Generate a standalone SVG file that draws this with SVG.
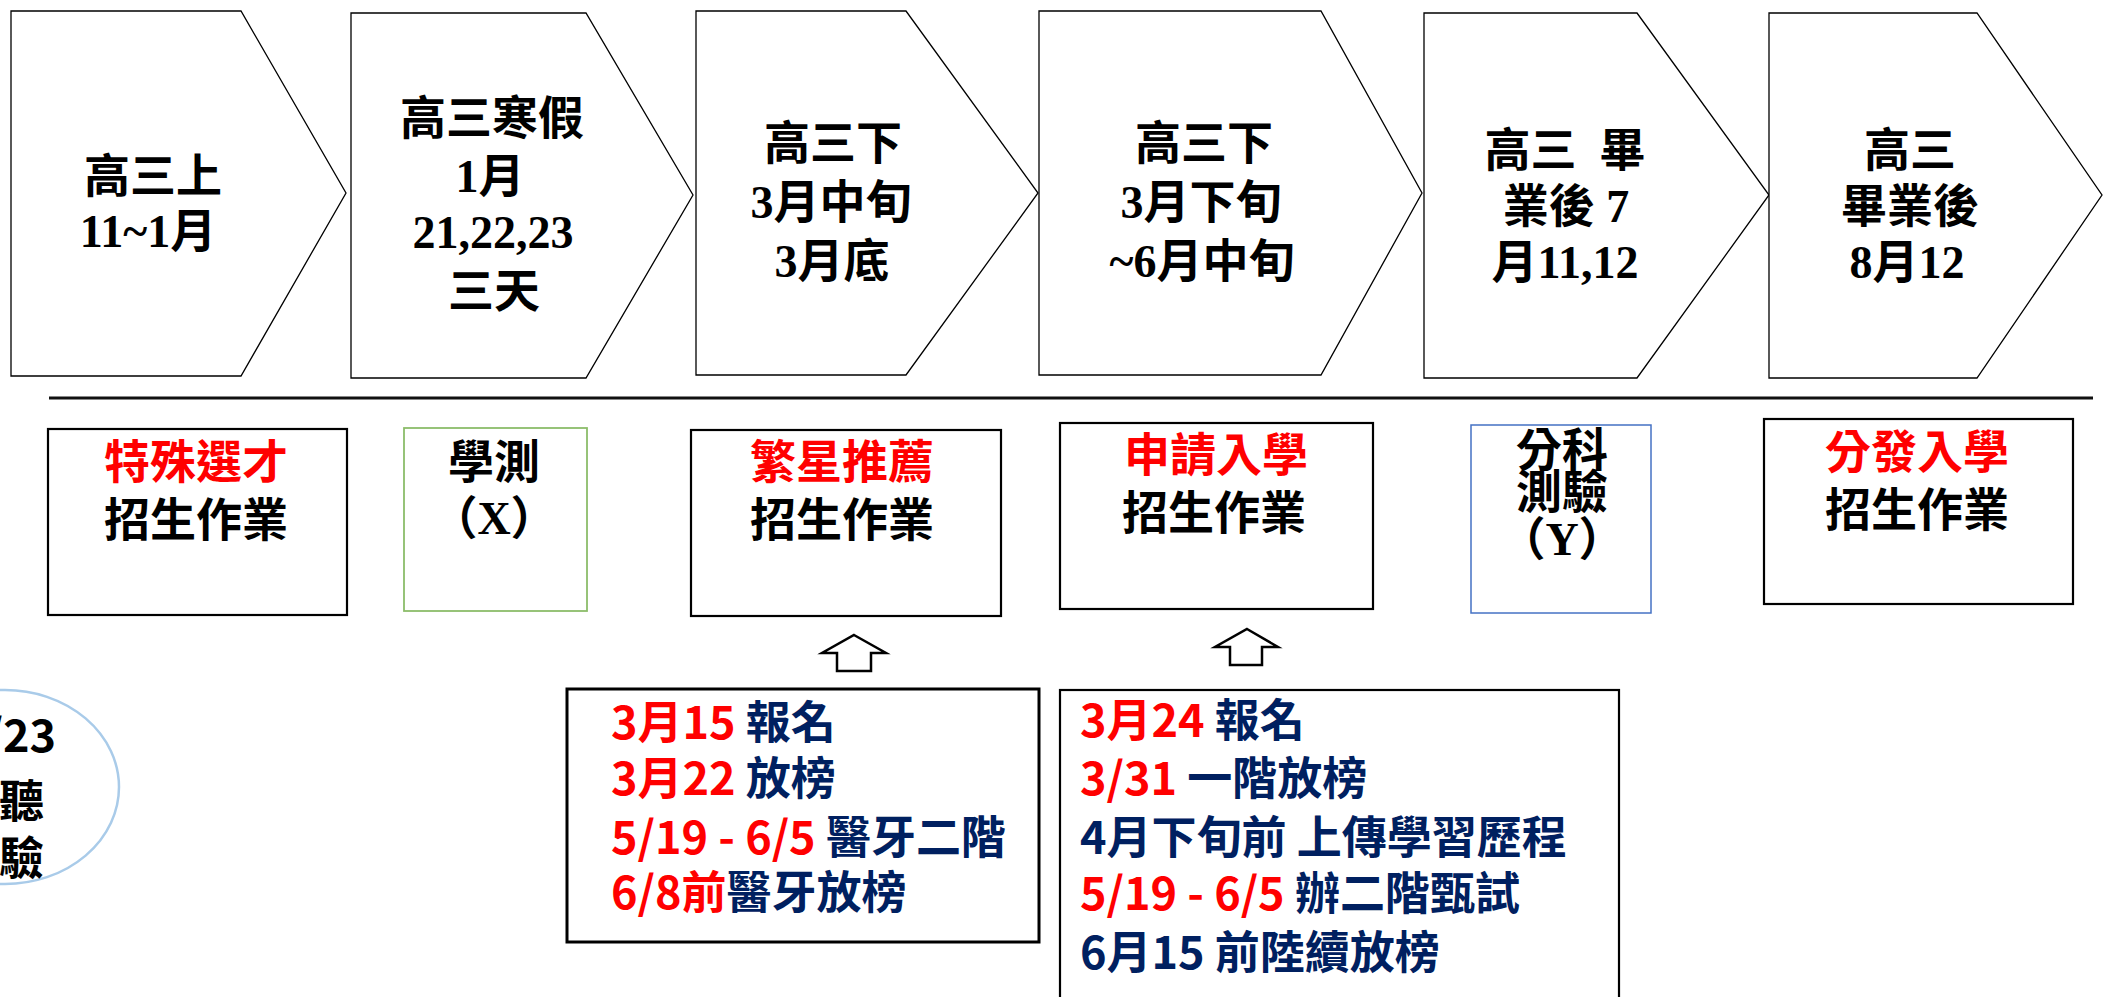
<svg xmlns="http://www.w3.org/2000/svg" width="2104" height="997" viewBox="0 0 2104 997">
<style>
.chev{fill:#fff;stroke:#000;stroke-width:1.3}
.ct{font-family:"Liberation Serif","Noto Sans CJK TC",serif;font-weight:bold;font-size:46px;fill:#000;text-anchor:middle}
.box{fill:#fff;stroke:#000;stroke-width:2.2}
.bt{font-family:"Liberation Serif","Noto Sans CJK TC",serif;font-weight:bold;font-size:46px;text-anchor:middle}
.red{fill:#ff0000}
.blk{fill:#000}
.nv{fill:#002060}
.lt{font-family:"Noto Sans CJK TC",sans-serif;font-weight:bold;font-size:45px}
.arr{fill:#fff;stroke:#000;stroke-width:2.5;stroke-linejoin:miter}
</style>
<rect width="2104" height="997" fill="#fff"/>
<g id="chevron1">
<polygon class="chev" points="11,11 241,11 346,193 241,376 11,376"/>
<text class="ct" x="153" y="192">高三上</text>
<text class="ct" x="148" y="247">11~1月</text>
</g>
<g id="chevron2">
<polygon class="chev" points="351,13 586,13 693,195 586,378 351,378"/>
<text class="ct" x="492" y="134">高三寒假</text>
<text class="ct" x="490" y="192">1月</text>
<text class="ct" x="493" y="248">21,22,23</text>
<text class="ct" x="494" y="307">三天</text>
</g>
<g id="chevron3">
<polygon class="chev" points="696,11 906,11 1038,193 906,375 696,375"/>
<text class="ct" x="833" y="159">高三下</text>
<text class="ct" x="831" y="218">3月中旬</text>
<text class="ct" x="832" y="277">3月底</text>
</g>
<g id="chevron4">
<polygon class="chev" points="1039,11 1321,11 1422,193 1321,375 1039,375"/>
<text class="ct" x="1204" y="159">高三下</text>
<text class="ct" x="1201" y="218">3月下旬</text>
<text class="ct" x="1202" y="277">~6月中旬</text>
</g>
<g id="chevron5">
<polygon class="chev" points="1424,13 1637,13 1769,195 1637,378 1424,378"/>
<text class="ct" x="1565" y="166" xml:space="preserve">高三  畢</text>
<text class="ct" x="1566" y="222" xml:space="preserve">業後 7</text>
<text class="ct" x="1565" y="278">月11,12</text>
</g>
<g id="chevron6">
<polygon class="chev" points="1769,13 1977,13 2102,195 1977,378 1769,378"/>
<text class="ct" x="1910" y="166">高三</text>
<text class="ct" x="1910" y="222">畢業後</text>
<text class="ct" x="1907" y="278">8月12</text>
</g>
<g id="connectors">
<line x1="49" y1="398" x2="2093" y2="398" stroke="#111" stroke-width="3"/>
<path class="arr" d="M854,635 L886,653 L871,653 L871,671 L837,671 L837,653 L822,653 Z"/>
<path class="arr" d="M1247,629 L1278,647 L1262,647 L1262,665 L1230,665 L1230,647 L1215,647 Z"/>
</g>
<g id="box-special">
<rect class="box" x="48" y="429" width="299" height="186"/>
<text class="bt red" x="196" y="478">特殊選才</text>
<text class="bt blk" x="196" y="536">招生作業</text>
</g>
<g id="box-gsat">
<rect x="404" y="428" width="183" height="183" fill="#fff" stroke="#8cbd6a" stroke-width="1.8"/>
<text class="bt blk" x="494" y="478">學測</text>
<text class="bt blk" x="494" y="534">（X）</text>
</g>
<g id="box-star">
<rect class="box" x="691" y="430" width="310" height="186"/>
<text class="bt red" x="842" y="478">繁星推薦</text>
<text class="bt blk" x="842" y="536">招生作業</text>
</g>
<g id="box-apply">
<rect class="box" x="1060" y="423" width="313" height="186"/>
<text class="bt red" x="1216" y="471">申請入學</text>
<text class="bt blk" x="1214" y="529">招生作業</text>
</g>
<g id="box-ast">
<rect x="1471" y="425" width="180" height="188" fill="#fff" stroke="#4472c4" stroke-width="1.5"/>
<text class="bt blk" x="1562" y="466">分科</text>
<text class="bt blk" x="1562" y="508">測驗</text>
<text class="bt blk" x="1562" y="555">（Y）</text>
</g>
<g id="box-dist">
<rect class="box" x="1764" y="419" width="309" height="185"/>
<text class="bt red" x="1917" y="468">分發入學</text>
<text class="bt blk" x="1917" y="526">招生作業</text>
</g>
<g id="circle-left">
<ellipse cx="5" cy="787" rx="114" ry="97" fill="#fff" stroke="#a9cbe9" stroke-width="2.5"/>
<text class="lt blk" x="56" y="752" text-anchor="end" font-size="44">/23</text>
<text class="lt blk" x="44" y="818" text-anchor="end">聽</text>
<text class="lt blk" x="44" y="875" text-anchor="end">驗</text>
</g>
<g id="detail-star">
<rect x="567" y="689" width="472" height="253" fill="#fff" stroke="#000" stroke-width="3"/>
<text class="lt" x="611" y="739"><tspan class="red">3月15</tspan><tspan class="nv"> 報名</tspan></text>
<text class="lt" x="611" y="795"><tspan class="red">3月22</tspan><tspan class="nv"> 放榜</tspan></text>
<text class="lt" x="611" y="854"><tspan class="red">5/19 - 6/5</tspan><tspan class="nv"> 醫牙二階</tspan></text>
<text class="lt" x="611" y="909"><tspan class="red">6/8前</tspan><tspan class="nv">醫牙放榜</tspan></text>
</g>
<g id="detail-apply">
<rect x="1060" y="690" width="559" height="330" fill="#fff" stroke="#000" stroke-width="2.2"/>
<text class="lt" x="1080" y="737"><tspan class="red">3月24</tspan><tspan class="nv"> 報名</tspan></text>
<text class="lt" x="1080" y="795"><tspan class="red">3/31</tspan><tspan class="nv"> 一階放榜</tspan></text>
<text class="lt nv" x="1080" y="854">4月下旬前 上傳學習歷程</text>
<text class="lt" x="1080" y="910"><tspan class="red">5/19 - 6/5</tspan><tspan class="nv"> 辦二階甄試</tspan></text>
<text class="lt nv" x="1080" y="969">6月15 前陸續放榜</text>
</g>
</svg>
